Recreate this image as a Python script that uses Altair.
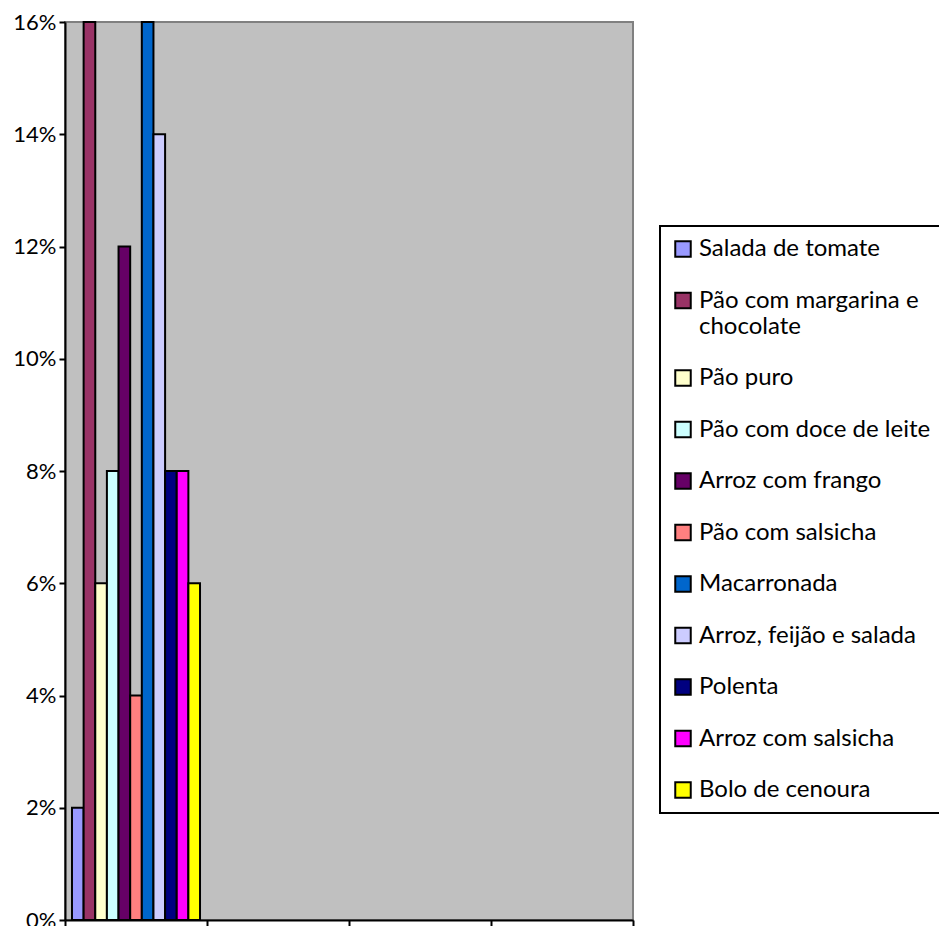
import altair as alt
import pandas as pd

groups = ["g1", "g2", "g3", "g4"]
foods = [
    "Salada de tomate",
    "Pão com margarina e chocolate",
    "Pão puro",
    "Pão com doce de leite",
    "Arroz com frango",
    "Pão com salsicha",
    "Macarronada",
    "Arroz, feijão e salada",
    "Polenta",
    "Arroz com salsicha",
    "Bolo de cenoura",
]
values = [0.02, 0.16, 0.06, 0.08, 0.12, 0.04, 0.16, 0.14, 0.08, 0.08, 0.06]
colors = ["#9999FF", "#993366", "#FFFFCC", "#CCFFFF", "#660066", "#FF8080",
          "#0066CC", "#CCCCFF", "#000080", "#FF00FF", "#FFFF00"]
y_ticks = [0, 0.02, 0.04, 0.06, 0.08, 0.10, 0.12, 0.14, 0.16]

df = pd.DataFrame({"group": [groups[0]] * len(foods), "food": foods, "value": values})

FONT = "Lato"

label_expr = ("datum.label == 'Pão com margarina e chocolate' ? "
              "['Pão com margarina e', 'chocolate'] : datum.label")

chart = alt.Chart(df).mark_bar(stroke="black", strokeWidth=2).encode(
    x=alt.X("group:N", scale=alt.Scale(domain=groups, paddingInner=0, paddingOuter=0),
            axis=alt.Axis(labels=False, title=None, tickBand="extent", tickSize=6,
                          tickColor="black", domainColor="black", domainWidth=2,
                          tickWidth=2, grid=False)),
    xOffset=alt.XOffset("food:N", sort=foods, scale=alt.Scale(domain=foods, paddingInner=0, paddingOuter=0.6)),
    y=alt.Y("value:Q", scale=alt.Scale(domain=[0, 0.16], nice=False),
            axis=alt.Axis(values=y_ticks, format=".0%", title=None, grid=False,
                          tickSize=6, tickColor="black", domainColor="black",
                          domainWidth=2, tickWidth=2, labelFontSize=22,
                          labelFont=FONT, labelColor="black", labelPadding=3)),
    color=alt.Color("food:N", sort=foods,
                    scale=alt.Scale(domain=foods, range=colors),
                    legend=alt.Legend(title=None, orient="none", legendX=595, legendY=204,
                                      symbolType="square", symbolSize=240,
                                      symbolStrokeColor="black", symbolStrokeWidth=2,
                                      labelFont=FONT, labelFontSize=24, labelColor="black",
                                      labelLimit=400, rowPadding=27.5, padding=11,
                                      labelOffset=4,
                                      strokeColor="black", fillColor="white",
                                      labelExpr=label_expr)),
).properties(
    width=568,
    height=898,
    padding={"left": 65, "top": 22, "right": 306, "bottom": 6},
    autosize=alt.AutoSizeParams(type="none"),
).configure_view(
    fill="#C0C0C0", stroke="#808080", strokeWidth=2
).configure_legend(strokeWidth=2)

chart.save("out.html", embed_options={"renderer": "svg", "actions": False})
